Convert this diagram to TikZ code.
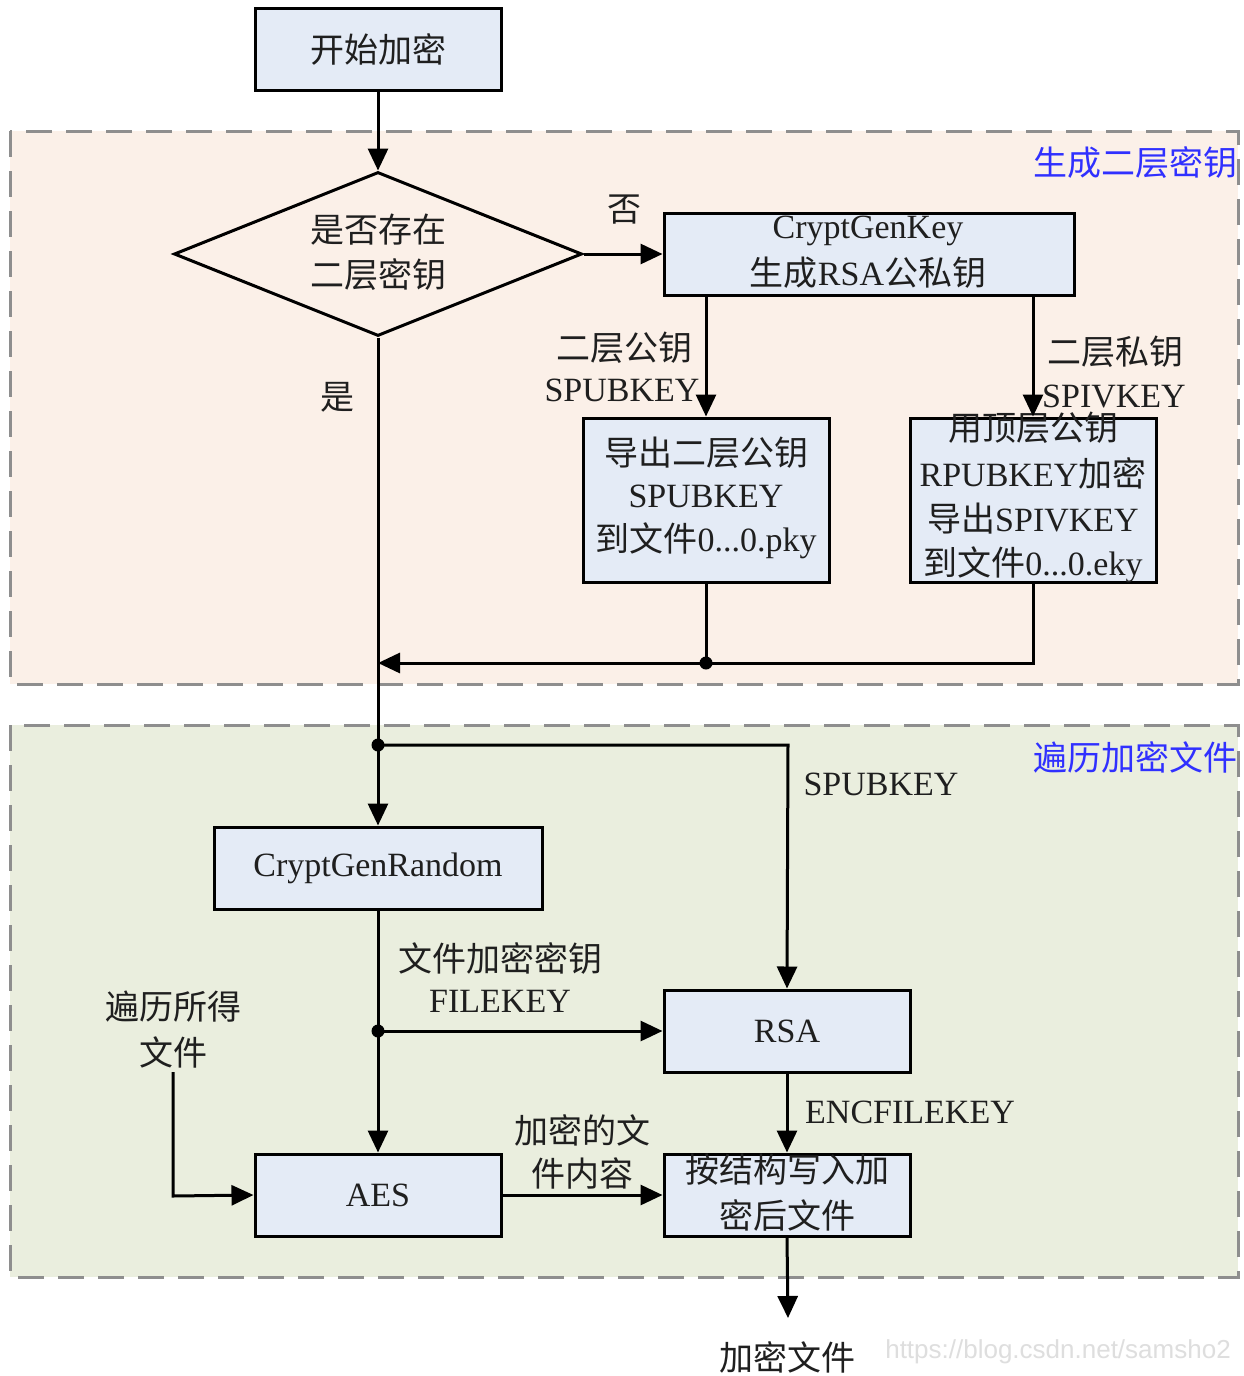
\documentclass[tikz,border=0pt]{standalone}
\usepackage{fontspec}
\setmainfont{Liberation Serif}
\newfontfamily\cjk{Noto Sans CJK SC}
\newfontfamily\wmfont{Liberation Sans}
\usetikzlibrary{arrows.meta,shapes.geometric}
\definecolor{boxfill}{HTML}{E4EBF6}
\definecolor{regA}{HTML}{FBF0E8}
\definecolor{regB}{HTML}{EAEEDE}
\definecolor{regline}{HTML}{8E8E8E}
\definecolor{lblblue}{HTML}{3030FF}
\newcommand{\zh}[1]{{\cjk #1}}
\begin{document}
\begin{tikzpicture}[x=0.5pt,y=-0.5pt,
 every node/.style={font=\fontsize{17}{22}\selectfont, text=black!88},
 box/.style={draw=black, line width=1.5pt, fill=boxfill, inner sep=0pt},
 txt/.style={align=center, inner sep=0pt},
 region/.style={draw=regline, line width=1.5pt, dash pattern=on 13pt off 7pt},
 link/.style={line width=1.5pt, draw=black},
 arr/.style={link, -{Triangle[length=11pt,width=10pt]}},
 dot/.style={circle, fill=black, inner sep=0pt, minimum size=6.5pt},
 reglabel/.style={text=lblblue, anchor=east, inner sep=0pt},
]
\useasboundingbox (0,0) rectangle (1243,1376);
\fill[white] (0,0) rectangle (1243,1376);

% regions
\draw[region, fill=regA] (10,131) rectangle (1238,684);
\draw[region, fill=regB] (10,725) rectangle (1238,1277);
\node[reglabel] (labA) at (1238,163) {\zh{生成二层密钥}};
\node[reglabel] (labB) at (1238,757) {\zh{遍历加密文件}};

% nodes
\node[box, minimum width=123pt, minimum height=41pt] (start) at (378,49) {\zh{开始加密}};
\node[diamond, draw=black, line width=1.5pt, inner sep=0pt, minimum width=204pt, minimum height=82pt] (dec) at (378,254) {};
\node[txt] (decA) at (378,230) {\zh{是否存在}};
\node[txt] (decB) at (378,275) {\zh{二层密钥}};

\node[box, minimum width=205pt, minimum height=41pt] (cgk) at (869,254) {};
\node[txt] (cgkA) at (868,231) {CryptGenKey};
\node[txt] (cgkB) at (868,273) {\zh{生成}RSA\zh{公私钥}};

\node[box, minimum width=123pt, minimum height=82pt] (pub) at (706,500) {};
\node[txt] (pubA) at (706,453) {\zh{导出二层公钥}};
\node[txt] (pubB) at (706,496) {SPUBKEY};
\node[txt] (pubC) at (706,541) {\zh{到文件}0...0.pky};

\node[box, minimum width=123pt, minimum height=82pt] (priv) at (1033,500) {};
\node[txt] (privA) at (1033,428) {\zh{用顶层公钥}};
\node[txt] (privB) at (1033,473) {RPUBKEY\zh{加密}};
\node[txt] (privC) at (1033,519) {\zh{导出}SPIVKEY};
\node[txt] (privD) at (1033,565) {\zh{到文件}0...0.eky};

\node[box, minimum width=164pt, minimum height=41pt] (cgr) at (378,868) {CryptGenRandom};
\node[box, minimum width=123pt, minimum height=41pt] (rsa) at (787,1031) {RSA};
\node[box, minimum width=123pt, minimum height=41pt] (aes) at (378,1195) {AES};
\node[box, minimum width=123pt, minimum height=41pt] (wr) at (787,1195) {};
\node[txt] (wrA) at (787,1170) {\zh{按结构写入加}};
\node[txt] (wrB) at (787,1215) {\zh{密后文件}};

% coordinates
\coordinate (j1) at (706,663);
\coordinate (c1) at (1033,663);
\coordinate (m1) at (378,663);
\coordinate (j2) at (378,745);
\coordinate (c2) at (788,745);
\coordinate (j3) at (378,1031);
\coordinate (src) at (173,1072);
\coordinate (c3) at (173,1196);
\coordinate (out) at (788,1318);

% connectors
\draw[arr] (start) -- (dec.north);
\draw[arr] (dec.east) -- (cgk.west);
\draw[arr] (cgk.south -| pub) -- (pub.north);
\draw[arr] (cgk.south -| priv) -- (priv.north);
\draw[link] (pub.south) -- (j1);
\draw[arr] (priv.south) -- (c1) -- (m1);
\draw[arr] (dec.south) -- (cgr.north);
\draw[arr] (j2) -- (c2) -- (rsa.north);
\draw[arr] (cgr.south) -- (aes.north);
\draw[arr] (j3) -- (rsa.west);
\draw[arr] (src) -- (c3) -- (aes.west);
\draw[arr] (aes.east) -- (wr.west);
\draw[arr] (rsa.south) -- (wr.north);
\draw[arr] (wr.south) -- (out);
\node[dot] (d1) at (j1) {};
\node[dot] (d2) at (j2) {};
\node[dot] (d3) at (j3) {};

% labels
\node[txt] (no) at (624,210) {\zh{否}};
\node[txt] (yes) at (337,397) {\zh{是}};
\node[txt] (l1a) at (624,348) {\zh{二层公钥}};
\node[txt] (l1b) at (622,390) {SPUBKEY};
\node[txt] (l2a) at (1115,352) {\zh{二层私钥}};
\node[txt] (l2b) at (1114,396) {SPIVKEY};
\node[txt] (l3) at (881,784) {SPUBKEY};
\node[txt] (l4a) at (500,958) {\zh{文件加密密钥}};
\node[txt] (l4b) at (500,1001) {FILEKEY};
\node[txt] (l5a) at (173,1007) {\zh{遍历所得}};
\node[txt] (l5b) at (173,1052) {\zh{文件}};
\node[txt] (l6a) at (582,1130) {\zh{加密的文}};
\node[txt] (l6b) at (582,1173) {\zh{件内容}};
\node[txt] (l7) at (910,1112) {ENCFILEKEY};
\node[txt] (res) at (787,1357) {\zh{加密文件}};
\node[txt, text=black!13, font=\wmfont\fontsize{13}{15}\selectfont] (wm) at (1058,1352) {https://blog.csdn.net/samsho2};
\end{tikzpicture}
\end{document}
